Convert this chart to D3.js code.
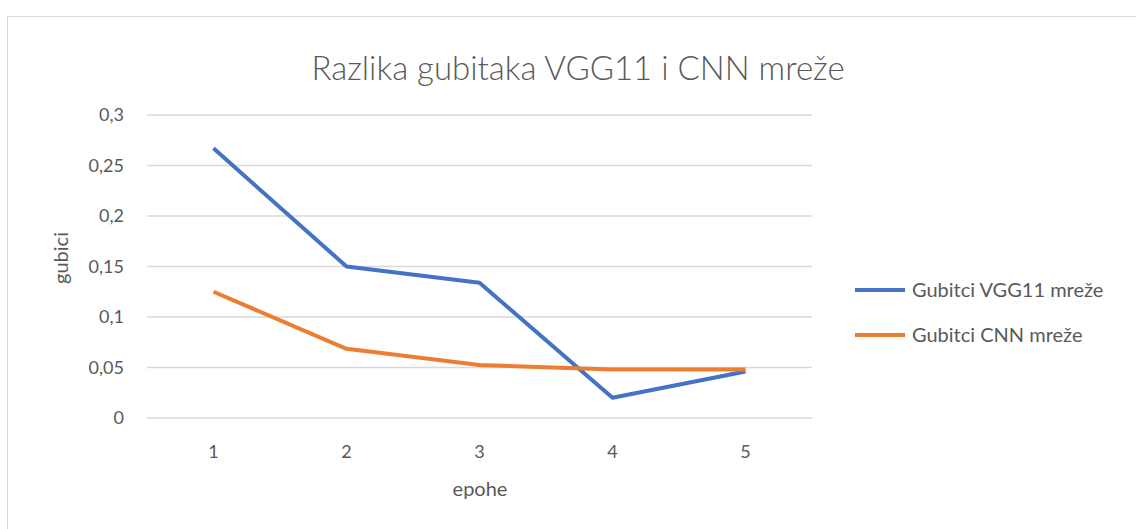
<!DOCTYPE html>
<html><head><meta charset="utf-8">
<script src="https://cdn.jsdelivr.net/npm/d3@7"></script>
<style>body{margin:0;background:#fff;}svg{display:block;}</style>
</head><body>
<script>
const categories = ["1","2","3","4","5"];
const vggLoss = [0.267, 0.150, 0.134, 0.020, 0.046];
const cnnLoss = [0.125, 0.0685, 0.0525, 0.048, 0.048];
const yTicks = [0, 0.05, 0.1, 0.15, 0.2, 0.25, 0.3];
const seriesNames = ["Gubitci VGG11 mreže", "Gubitci CNN mreže"];
const colors = ["#4472C4", "#ED7D31"];

(function () {
const W = 1136, H = 529;
const svg = d3.select("body").append("svg").attr("width", W).attr("height", H);
const font = "Lato, 'Open Sans', sans-serif";
const txt = "#595959";

svg.append("rect").attr("x", 7.5).attr("y", 16.5).attr("width", W).attr("height", H)
  .attr("fill", "#fff").attr("stroke", "#d9d9d9");

const pl = 147, pr = 812, pt = 115, pb = 418;
const x = d3.scaleBand().domain(categories).range([pl, pr]);
const y = d3.scaleLinear().domain([0, 0.3]).range([pb, pt]);

svg.append("g").selectAll("line").data(yTicks).join("line")
  .attr("x1", pl).attr("x2", pr)
  .attr("y1", d => y(d)).attr("y2", d => y(d))
  .attr("stroke", "#d9d9d9").attr("stroke-width", 1.3);

const fmt = d => String(d).replace(".", ",");
svg.append("g").selectAll("text").data(yTicks).join("text")
  .attr("x", 124).attr("y", d => y(d)).attr("dy", "0.35em")
  .attr("text-anchor", "end").attr("font-family", font).attr("font-size", 18).attr("fill", txt)
  .text(fmt);

svg.append("g").selectAll("text").data(categories).join("text")
  .attr("x", d => x(d) + x.bandwidth() / 2).attr("y", 458)
  .attr("text-anchor", "middle").attr("font-family", font).attr("font-size", 18).attr("fill", txt)
  .text(d => d);

const line = d3.line().x((d, i) => x(categories[i]) + x.bandwidth() / 2).y(d => y(d));
[vggLoss, cnnLoss].forEach((s, i) => {
  svg.append("path").datum(s).attr("d", line).attr("fill", "none")
    .attr("stroke", colors[i]).attr("stroke-width", 4).attr("stroke-linejoin", "round");
});

svg.append("text").attr("x", 578).attr("y", 80).attr("text-anchor", "middle")
  .attr("font-family", font).attr("font-size", 33).attr("font-weight", 300).attr("fill", txt)
  .text("Razlika gubitaka VGG11 i CNN mreže");

svg.append("text").attr("x", 480).attr("y", 496).attr("text-anchor", "middle")
  .attr("font-family", font).attr("font-size", 20).attr("fill", txt).text("epohe");

svg.append("text").attr("transform", "translate(68,258) rotate(-90)").attr("text-anchor", "middle")
  .attr("font-family", font).attr("font-size", 20).attr("fill", txt).text("gubici");

seriesNames.forEach((n, i) => {
  const ly = 290 + i * 45;
  svg.append("line").attr("x1", 855).attr("x2", 905).attr("y1", ly).attr("y2", ly)
    .attr("stroke", colors[i]).attr("stroke-width", 4);
  svg.append("text").attr("x", 912).attr("y", ly).attr("dy", "0.35em")
    .attr("font-family", font).attr("font-size", 20).attr("fill", txt).text(n);
});
})();
</script>
</body></html>
